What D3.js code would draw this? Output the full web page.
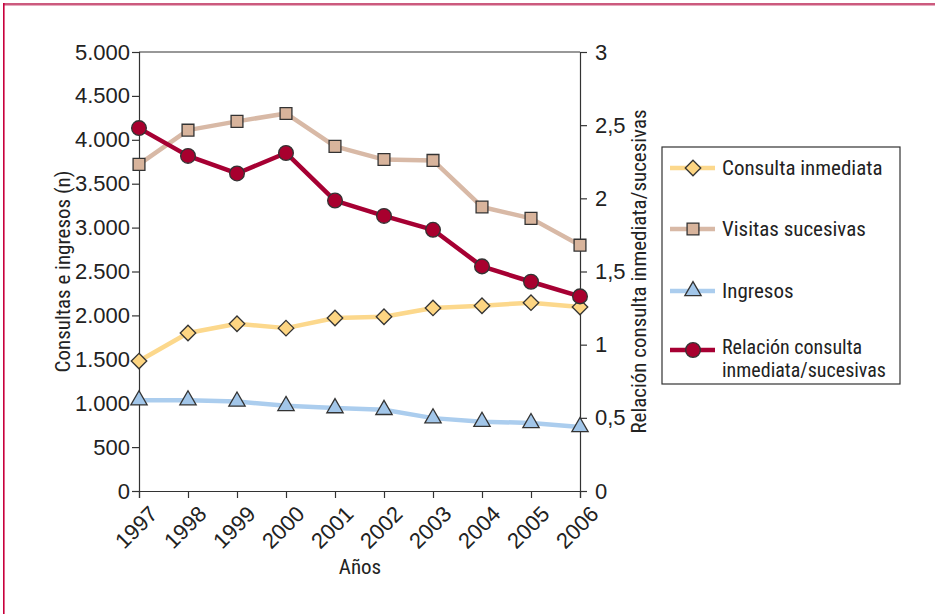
<!DOCTYPE html>
<html><head><meta charset="utf-8">
<script src="https://cdn.jsdelivr.net/npm/d3@7/dist/d3.min.js"></script>
<style>
body{margin:0;background:#fff;}
svg{display:block;font-family:"Liberation Sans Narrow","Arial Narrow","Roboto Condensed",sans-serif;}
</style></head><body>
<svg id="c" width="935" height="614"></svg>
<script>
const years = [1997,1998,1999,2000,2001,2002,2003,2004,2005,2006];
const consultaInmediata = [1480,1800,1905,1855,1970,1985,2085,2110,2145,2095];
const visitasSucesivas = [3720,4110,4210,4300,3925,3775,3765,3235,3105,2800];
const ingresos = [1035,1035,1020,970,945,925,830,790,775,730];
const relacion = [2.48,2.29,2.17,2.31,1.985,1.88,1.785,1.535,1.43,1.33];
const leftTicks = [0,500,1000,1500,2000,2500,3000,3500,4000,4500,5000];
const rightTicks = [0,0.5,1,1.5,2,2.5,3];
const seriesNames = ["Consulta inmediata","Visitas sucesivas","Ingresos","Relación consulta inmediata/sucesivas"];

const svg = d3.select("#c");
svg.append("rect").attr("x",3).attr("y",3).attr("width",932).attr("height",2.5).attr("fill","#cc5a7e");
svg.append("rect").attr("x",3).attr("y",3).attr("width",1.6).attr("height",611).attr("fill","#c8003c");

const L=139,R=580,T=52,B=491;
const x = d3.scalePoint().domain(years).range([L,R]);
const yL = d3.scaleLinear().domain([0,5000]).range([B,T]);
const yR = d3.scaleLinear().domain([0,3]).range([B,T]);
const fmtL = d => d3.format(",")(d).replace(/,/g,".");
const fmtR = d => String(d).replace(".",",");
const FS = "21px";

const g = svg.append("g");
g.append("line").attr("x1",L).attr("x2",R).attr("y1",T).attr("y2",T).attr("stroke","#333").attr("stroke-width",1.2);

const axL = g.append("g").attr("transform",`translate(${L},0)`).call(d3.axisLeft(yL).tickValues(leftTicks).tickFormat(fmtL).tickSize(7).tickPadding(2));
const axR = g.append("g").attr("transform",`translate(${R},0)`).call(d3.axisRight(yR).tickValues(rightTicks).tickFormat(fmtR).tickSize(7).tickPadding(8));
const axB = g.append("g").attr("transform",`translate(0,${B})`).call(d3.axisBottom(x).tickSize(7).tickPadding(4));
[axL,axR,axB].forEach(a=>{
  a.selectAll("path.domain").attr("stroke","#333").attr("stroke-width",1.2);
  a.selectAll(".tick line").attr("stroke","#333").attr("stroke-width",1.2);
  a.selectAll("text").attr("fill","#222").style("font-size","22px").style("font-family",'"Liberation Sans Narrow","Arial Narrow",sans-serif');
});
axB.selectAll("text").attr("text-anchor","end").attr("dy","0.3em")
  .attr("transform","translate(7,12) rotate(-45)");

svg.append("text").attr("transform",`translate(70,${(T+B)/2}) rotate(-90)`).attr("text-anchor","middle")
  .style("font-size",FS).attr("fill","#222").text("Consultas e ingresos (n)");
svg.append("text").attr("transform",`translate(646,${(T+B)/2}) rotate(-90)`).attr("text-anchor","middle")
  .style("font-size",FS).attr("fill","#222").text("Relación consulta inmediata/sucesivas");
svg.append("text").attr("x",360).attr("y",574).attr("text-anchor","middle")
  .style("font-size",FS).attr("fill","#222").text("Años");

const diamond = {draw(ctx,size){const r=Math.sqrt(size/2);ctx.moveTo(0,-r);ctx.lineTo(r,0);ctx.lineTo(0,r);ctx.lineTo(-r,0);ctx.closePath();}};
const styles = [
  {data:consultaInmediata, y:yL, line:"#fcd88c", fill:"#fdd582", sym:diamond, size:120},
  {data:visitasSucesivas, y:yL, line:"#d8b9a6", fill:"#d8b49c", sym:d3.symbolSquare, size:140},
  {data:ingresos, y:yL, line:"#abcdee", fill:"#a2c6e9", sym:d3.symbolTriangle, size:115},
  {data:relacion, y:yR, line:"#a60033", fill:"#a8002e", sym:d3.symbolCircle, size:170},
];
const order=[2,0,1,3];
order.forEach(i=>{
  const s=styles[i];
  const line=d3.line().x((d,j)=>x(years[j])).y(d=>s.y(d));
  g.append("path").datum(s.data).attr("d",line).attr("fill","none").attr("stroke",s.line).attr("stroke-width",4.5).attr("stroke-linejoin","round");
});
order.forEach(i=>{
  const s=styles[i];
  g.selectAll(null).data(s.data).join("path")
    .attr("transform",(d,j)=>`translate(${x(years[j])},${s.y(d)})`)
    .attr("d",d3.symbol().type(s.sym).size(s.size)())
    .attr("fill",s.fill).attr("stroke","#333").attr("stroke-width",1.3);
});

const lg = svg.append("g");
lg.append("rect").attr("x",662).attr("y",147).attr("width",238).attr("height",237).attr("fill","#fff").attr("stroke","#333").attr("stroke-width",1.2);
const rowsY=[168,229,291,350];
styles.forEach((s,i)=>{
  const yy=rowsY[i];
  lg.append("line").attr("x1",670).attr("x2",715).attr("y1",yy).attr("y2",yy).attr("stroke",s.line).attr("stroke-width",4.5);
  lg.append("path").attr("transform",`translate(693,${yy})`).attr("d",d3.symbol().type(s.sym).size(s.size)())
    .attr("fill",s.fill).attr("stroke","#333").attr("stroke-width",1.3);
});
const lt = (t,yy,fs)=>lg.append("text").attr("x",722).attr("y",yy).attr("dy","0.35em").style("font-size",fs||FS).attr("fill","#222").text(t);
lt(seriesNames[0],168); lt(seriesNames[1],229); lt(seriesNames[2],291);
lt("Relación consulta",347,"20px"); lt("inmediata/sucesivas",370,"20px");
</script></body></html>
